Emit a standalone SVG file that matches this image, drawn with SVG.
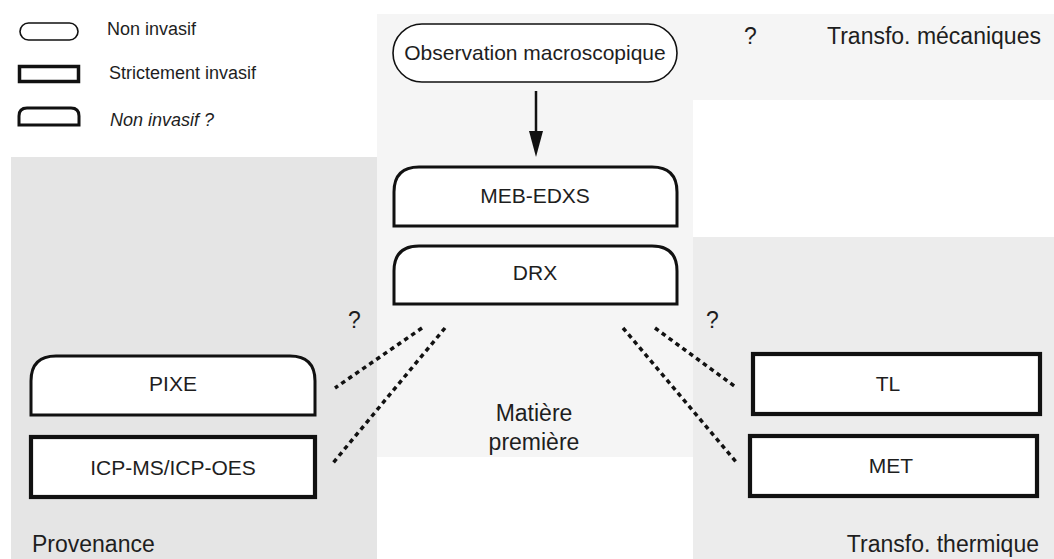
<svg xmlns="http://www.w3.org/2000/svg" width="1054" height="559" viewBox="0 0 1054 559">
<style>
  text { font-family: "Liberation Sans", Arial, sans-serif; fill: #1e1e1e; }
  .lbl { font-size: 21px; text-anchor: middle; }
  .big { font-size: 23px; }
  .leg { font-size: 18px; }
  .thin { fill: #ffffff; stroke: #111; stroke-width: 1.6; }
  .mid { fill: #ffffff; stroke: #111; stroke-width: 3; }
  .thick { fill: #ffffff; stroke: #111; stroke-width: 4.2; }
  .dot { fill: none; stroke: #111; stroke-width: 3.5; stroke-dasharray: 4.5 4; }
</style>
<rect width="1054" height="559" fill="#ffffff"/>
<g id="panels">
  <rect x="11" y="157" width="366" height="402" fill="#e5e5e5"/>
  <rect x="377" y="14" width="316" height="443" fill="#f5f5f5"/>
  <rect x="693" y="14" width="361" height="86" fill="#f5f5f5"/>
  <rect x="693" y="237" width="361" height="322" fill="#ececec"/>
</g>
<g id="legend">
  <rect class="thin" x="20" y="23" width="58" height="17" rx="8.5"/>
  <text class="leg" x="107" y="35">Non invasif</text>
  <rect x="19.5" y="66.5" width="59" height="15" fill="#fff" stroke="#111" stroke-width="3.5"/>
  <text class="leg" x="109" y="79">Strictement invasif</text>
  <path class="mid" d="M19 125 V116 Q19 108 27 108 H71 Q79 108 79 116 V125 Z"/>
  <text class="leg" x="110" y="126" font-style="italic">Non invasif ?</text>
</g>
<g id="obs">
  <rect class="thin" x="393" y="24" width="284" height="58" rx="29"/>
  <text class="lbl" x="535" y="60">Observation macroscopique</text>
</g>
<g id="meb">
  <path class="mid" d="M394 226 V192 Q394 167 419 167 H652 Q677 167 677 192 V226 Z"/>
  <text class="lbl" x="535" y="203">MEB-EDXS</text>
</g>
<g id="drx">
  <path class="mid" d="M394 304 V271 Q394 246 419 246 H652 Q677 246 677 271 V304 Z"/>
  <text class="lbl" x="535" y="280">DRX</text>
</g>
<g id="pixe">
  <path class="mid" d="M31 415 V381 Q31 356 56 356 H290 Q315 356 315 381 V415 Z"/>
  <text class="lbl" x="173" y="391">PIXE</text>
</g>
<g id="icp">
  <rect class="thick" x="31" y="437" width="284" height="60"/>
  <text class="lbl" x="173" y="475">ICP-MS/ICP-OES</text>
</g>
<g id="tl">
  <rect class="thick" x="753" y="354" width="287" height="60"/>
  <text class="lbl" x="888" y="391">TL</text>
</g>
<g id="met">
  <rect class="thick" x="750" y="436" width="287" height="60"/>
  <text class="lbl" x="891" y="473">MET</text>
</g>
<g id="labels">
  <text class="big" x="32" y="552">Provenance</text>
  <text class="big" x="1039" y="552" text-anchor="end">Transfo. thermique</text>
  <text class="big" x="827" y="44">Transfo. mécaniques</text>
  <text class="big" x="744" y="44">?</text>
  <text class="big" x="348" y="328">?</text>
  <text class="big" x="706" y="328">?</text>
  <text class="big" x="534" y="421" text-anchor="middle">Matière</text>
  <text class="big" x="534" y="450" text-anchor="middle">première</text>
</g>
<g id="connectors">
  <line x1="536" y1="91" x2="536" y2="136" stroke="#111" stroke-width="2.5"/>
  <polygon points="529,131 543,131 536,157" fill="#111"/>
  <line class="dot" x1="422" y1="328" x2="335" y2="388"/>
  <line class="dot" x1="445" y1="328" x2="333" y2="463"/>
  <line class="dot" x1="655" y1="328" x2="737" y2="388"/>
  <line class="dot" x1="623" y1="328" x2="737" y2="463"/>
</g>
</svg>
